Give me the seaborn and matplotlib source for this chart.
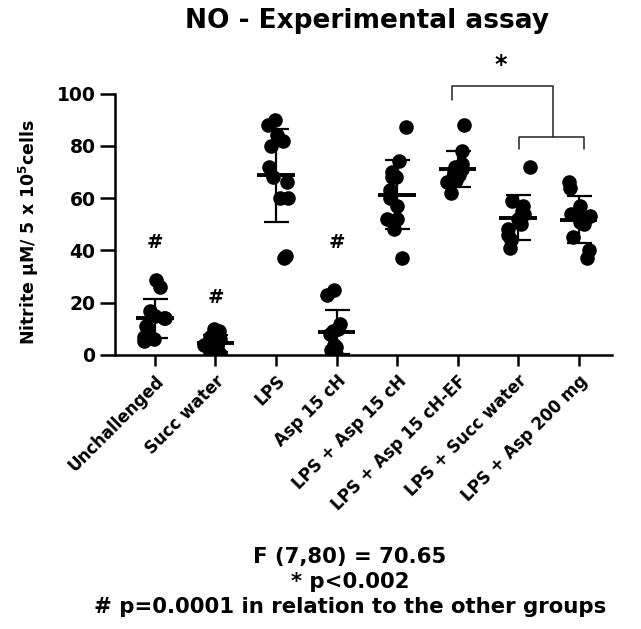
import numpy as np
import pandas as pd
import matplotlib
matplotlib.use("Agg")
import matplotlib.pyplot as plt
import matplotlib.transforms as mtransforms
import seaborn as sns

groups = ["Unchallenged", "Succ water", "LPS", "Asp 15 cH", "LPS + Asp 15 cH",
          "LPS + Asp 15 cH-EF", "LPS + Succ water", "LPS + Asp 200 mg"]

unchallenged = [28.5, 26, 17, 15, 14, 14, 11, 10, 7, 6, 5.5]
succ_water = [10, 9, 7, 6, 5, 4, 3, 2, 1, 1, 0.5]
lps = [90, 88, 84, 82, 80, 72, 68, 66, 60, 60, 38, 37]
asp15 = [25, 23, 12, 10, 9, 8, 4, 3, 2, 1, 0.5]
lps_asp15 = [87, 74, 70, 68, 68, 63, 60, 57, 52, 52, 48, 37]
lps_asp15_ef = [88, 78, 73, 72, 71, 70, 69, 68, 67, 66, 62]
lps_succ = [72, 59, 57, 55, 54, 52, 50, 48, 46, 44, 41]
lps_asp200 = [66, 64, 57, 54, 53, 52, 51, 50, 45, 40, 37]

series = [unchallenged, succ_water, lps, asp15, lps_asp15, lps_asp15_ef, lps_succ, lps_asp200]
hash_groups = ["Unchallenged", "Succ water", "Asp 15 cH"]
hash_y = [43, 22, 43]

df = pd.DataFrame({
    "group": [g for g, vals in zip(groups, series) for _ in vals],
    "value": [v for vals in series for v in vals],
})

sns.set_theme(style="ticks")
plt.rcParams["font.family"] = ["DejaVu Sans"]
plt.rcParams["font.weight"] = "bold"
plt.rcParams["mathtext.fontset"] = "custom"
plt.rcParams["mathtext.rm"] = "DejaVu Sans:bold"
plt.rcParams["mathtext.bf"] = "DejaVu Sans:bold"
plt.rcParams["mathtext.it"] = "DejaVu Sans:bold"
for k in ["text.color", "axes.labelcolor", "xtick.color", "ytick.color", "axes.edgecolor"]:
    plt.rcParams[k] = "black"

fig = plt.figure(figsize=(6.41, 6.29), dpi=100)
ax = fig.add_axes([115 / 641, 1 - 355 / 629, (612 - 115) / 641, (355 - 93.5) / 629])

np.random.seed(3)
sns.stripplot(data=df, x="group", y="value", order=groups, color="black",
              size=10.5, jitter=0.2, linewidth=0, ax=ax, zorder=3)

for i, vals in enumerate(series):
    m = np.mean(vals)
    sd = np.std(vals, ddof=1)
    ax.errorbar(i, m, yerr=sd, fmt="none", ecolor="black", elinewidth=1.6,
                capsize=9, capthick=1.6, zorder=4)
    ax.hlines(m, i - 0.31, i + 0.31, color="black", lw=2.8, zorder=5)

for g, y in zip(hash_groups, hash_y):
    ax.text(groups.index(g), y, "#", ha="center", va="center", fontsize=14, fontweight="bold")

# significance bracket
ax.plot([4.9, 4.9, 6.57, 6.57], [97.7, 102.8, 102.8, 83.4], color="#222222", lw=1.1, clip_on=False)
ax.plot([6.01, 6.01, 7.08, 7.08], [78.6, 83.4, 83.4, 78.6], color="#222222", lw=1.1, clip_on=False)
ax.text(5.72, 111, "*", ha="center", va="center", fontsize=17, fontweight="bold", clip_on=False)

ax.set_xlim(-0.66, 7.55)
ax.set_ylim(0, 100)
ax.set_yticks([0, 20, 40, 60, 80, 100])
ax.set_xlabel("")
ax.set_ylabel(r"Nitrite µM/ 5 x 10$^{5}$cells", fontsize=12.5, fontweight="bold")
ax.yaxis.set_label_coords(-0.148, 0.47)
ax.set_xticks(range(len(groups)))
ax.set_xticklabels(groups, rotation=45, ha="right", rotation_mode="anchor",
                   fontsize=12, fontweight="bold")
offset = mtransforms.ScaledTranslation(-5 / 100, 0, fig.dpi_scale_trans)
for lab in ax.get_xticklabels():
    lab.set_transform(lab.get_transform() + offset)
for lab in ax.get_yticklabels():
    lab.set_fontsize(13.5)
    lab.set_fontweight("bold")
ax.tick_params(axis="y", length=11, width=1.8, pad=3)
ax.tick_params(axis="x", length=8, width=1.8, pad=4)
for s in ["left", "bottom"]:
    ax.spines[s].set_linewidth(1.8)
sns.despine(ax=ax)

fig.text(367 / 641, 1 - 21 / 629, "NO - Experimental assay", ha="center", va="center",
         fontsize=19, fontweight="bold")
fig.text(350 / 641, 1 - 557 / 629, "F (7,80) = 70.65", ha="center", va="center",
         fontsize=15.3, fontweight="bold")
fig.text(350 / 641, 1 - 582 / 629, "* p<0.002", ha="center", va="center",
         fontsize=15.3, fontweight="bold")
fig.text(350 / 641, 1 - 607 / 629, "# p=0.0001 in relation to the other groups", ha="center",
         va="center", fontsize=15.3, fontweight="bold")

fig.savefig("out.png", dpi=100)
